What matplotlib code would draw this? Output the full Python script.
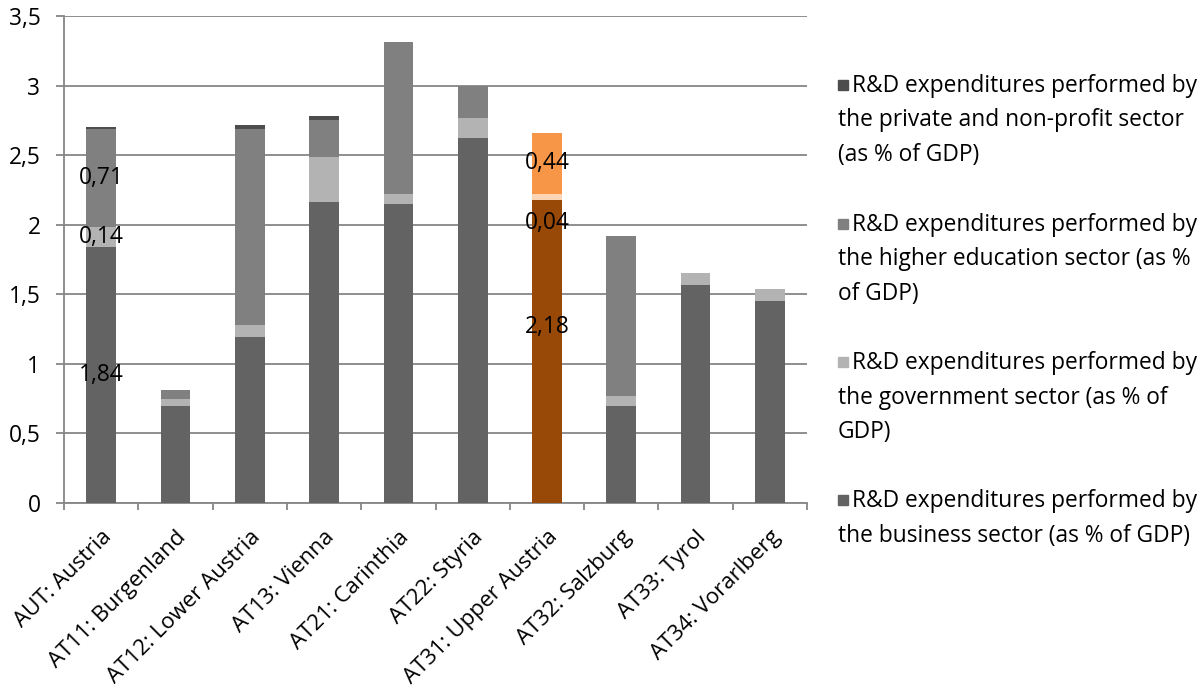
import numpy as np
import matplotlib.pyplot as plt
from matplotlib.patches import Rectangle

plt.rcParams['font.family'] = ['Open Sans', 'DejaVu Sans']

# Data (share of GDP, %)
regions = ['AUT: Austria', 'AT11: Burgenland', 'AT12: Lower Austria', 'AT13: Vienna',
           'AT21: Carinthia', 'AT22: Styria', 'AT31: Upper Austria', 'AT32: Salzburg',
           'AT33: Tyrol', 'AT34: Vorarlberg']
business = [1.84, 0.70, 1.19, 2.16, 2.15, 2.62, 2.18, 0.70, 1.57, 1.45]
government = [0.14, 0.05, 0.09, 0.33, 0.07, 0.15, 0.04, 0.07, 0.08, 0.09]
higher_edu = [0.71, 0.06, 1.41, 0.26, 1.09, 0.23, 0.44, 1.15, 0.00, 0.00]
private_np = [0.01, 0.00, 0.03, 0.03, 0.00, 0.00, 0.00, 0.00, 0.00, 0.00]

legend_labels = [
    ['R&D expenditures performed by', 'the private and non-profit sector', '(as % of GDP)'],
    ['R&D expenditures performed by', 'the higher education sector (as %', 'of GDP)'],
    ['R&D expenditures performed by', 'the government sector (as % of', 'GDP)'],
    ['R&D expenditures performed by', 'the business sector (as % of GDP)'],
]

grey_cols = ['#636363', '#b3b3b3', '#808080', '#4d4d4d']
hi_cols = ['#984807', '#fcd5b5', '#f79646', '#7f3c06']
highlight = 'AT31: Upper Austria'
fs = 16.4

fig = plt.figure(figsize=(12.01, 6.95), dpi=100)
ax = fig.add_axes([0.0533, 0.2763, 0.6187, 0.7007])

x = np.arange(len(regions))
series = [business, government, higher_edu, private_np]
bottom = np.zeros(len(regions))
for k, vals in enumerate(series):
    vals = np.array(vals)
    cols = [hi_cols[k] if r == highlight else grey_cols[k] for r in regions]
    ax.bar(x, vals, 0.4, bottom=bottom, color=cols, zorder=3)
    bottom += vals

# data labels
def seg_center(i, k):
    return sum(s[i] for s in series[:k]) + series[k][i] / 2

labels = [(0, 0, None), (0, 1, None), (0, 2, None),
          (6, 0, 1.265), (6, 1, 2.015), (6, 2, None)]
for i, k, ypos in labels:
    y = seg_center(i, k) if ypos is None else ypos
    ax.text(x[i], y, f"{series[k][i]:.2f}".replace('.', ','), ha='center', va='center',
            fontsize=fs, color='black', zorder=5)

ax.set_xlim(-0.5, len(regions) - 0.5)
ax.set_ylim(0, 3.5)
yt = np.arange(0, 3.51, 0.5)
ax.set_yticks(yt)
ax.set_yticklabels([('%g' % v).replace('.', ',') for v in yt], fontsize=fs)
ax.yaxis.grid(True, color='#868686', linewidth=1.3, zorder=0)
ax.tick_params(axis='y', length=6, width=1.3, color='#868686', pad=11)

ax.set_xticks(x)
ax.set_xticklabels(regions, rotation=45, ha='right', rotation_mode='anchor', fontsize=16)
ax.set_xticks(np.arange(-0.5, len(regions), 1), minor=True)
ax.tick_params(axis='x', which='major', length=0, pad=17)
ax.tick_params(axis='x', which='minor', length=5, width=1.3, color='#868686')

for s in ['top', 'right']:
    ax.spines[s].set_visible(False)
for s in ['left', 'bottom']:
    ax.spines[s].set_color('#868686')
    ax.spines[s].set_linewidth(1.3)

# legend drawn manually (square aligned with the first text line)
W, H = 1201, 695
entry_y = [85, 224, 362, 500]
leg_cols = [grey_cols[3], grey_cols[2], grey_cols[1], grey_cols[0]]
for ey, col, lines in zip(entry_y, leg_cols, legend_labels):
    fig.patches.append(Rectangle((838 / W, 1 - (ey + 5) / H), 10 / W, 10 / H,
                                 transform=fig.transFigure, color=col))
    for j, line in enumerate(lines):
        xx = 852 if j == 0 else 838
        fig.text(xx / W, 1 - (ey + 1 + j * 34.5) / H, line, ha='left', va='center', fontsize=fs)

fig.savefig('out.png', dpi=100)
